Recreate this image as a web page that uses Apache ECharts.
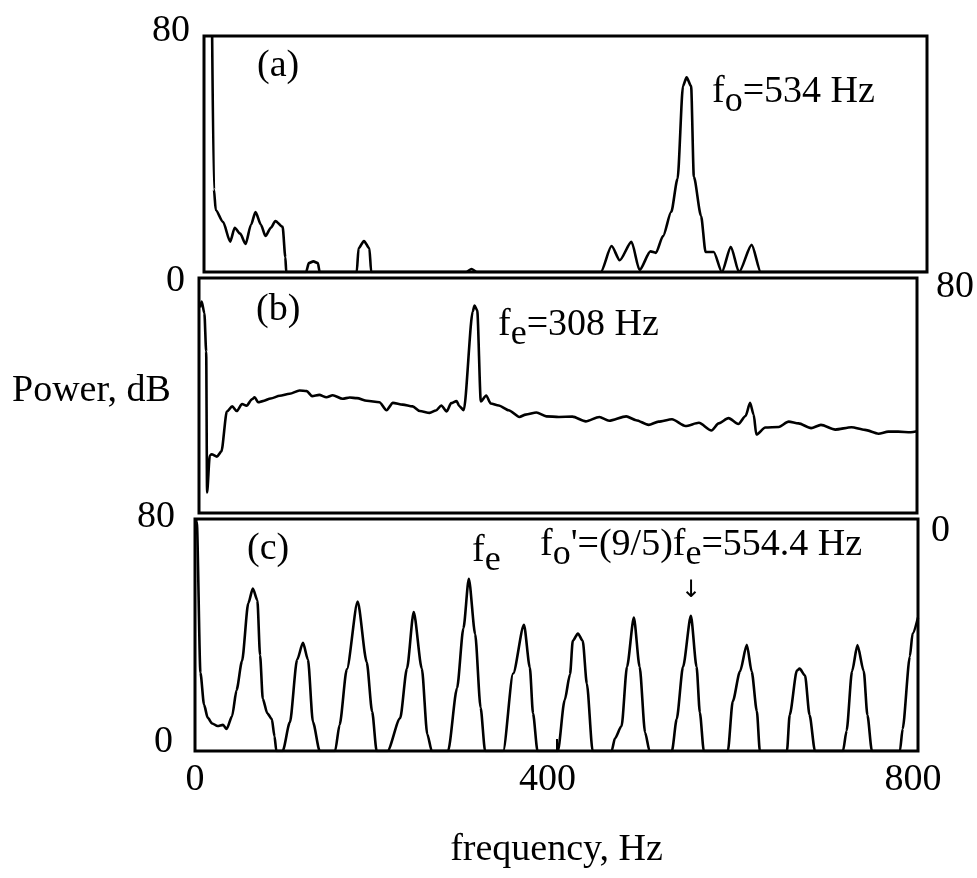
<!DOCTYPE html>
<html><head><meta charset="utf-8">
<script src="https://cdn.jsdelivr.net/npm/echarts@6/dist/echarts.min.js"></script>
<style>html,body{margin:0;padding:0;background:#fff}#c{width:977px;height:878px}</style>
</head><body><div id="c"></div>
<script>
// ---- Data (frequency in Hz, power in dB) ----
const freqA = [9, 11, 13, 21, 29, 34, 40, 46, 52, 57, 63, 68, 74, 79, 87, 90, 91, 113, 116, 121, 126, 128, 169, 171, 177, 183, 185, 290, 296, 302, 439, 451, 460, 473, 482, 494, 500, 508, 517, 524, 530, 534, 539, 542, 550, 555, 564, 573, 583, 592, 606, 616, 800];
const powerA = [80, 28, 21, 17, 10.3, 15, 13, 9.5, 16, 20.3, 16, 12.2, 15, 17.3, 15.3, 5, 0, 0, 3, 3.6, 3, 0, 0, 8, 10.5, 8, 0, 0, 1, 0, 0, 8.8, 4, 10.2, 0.7, 7, 6.5, 12.2, 20.4, 31.6, 63, 66, 63, 32.3, 19, 6.8, 6.8, 0, 8.5, 0, 9.2, 0, 0];

const freqB = [1, 3, 6, 8, 9, 12, 14, 20, 25, 31, 37, 42, 48, 53, 59, 62, 66, 71, 80, 90, 101, 112, 120, 126, 134, 142, 149, 160, 168, 176, 187, 201, 209, 216, 227, 238, 246, 257, 264, 270, 276, 281, 287, 290, 295, 305, 307, 310, 314, 320, 325, 334, 345, 357, 364, 376, 387, 401, 416, 431, 446, 457, 476, 487, 501, 512, 527, 542, 557, 571, 579, 590, 601, 609, 614, 618, 621, 631, 646, 657, 668, 682, 693, 709, 727, 742, 757, 768, 779, 793, 800];
const powerB = [70, 72, 68, 55, 7, 19.5, 20, 19.2, 21, 34.5, 36.3, 34.7, 37.1, 36.5, 38.7, 39.4, 37.7, 38.1, 39, 39.9, 40.6, 41.7, 41.5, 39.8, 40.2, 39.4, 40.1, 38.9, 39.3, 39.1, 38.2, 37.7, 35, 37.5, 36.9, 36.3, 34.7, 34.1, 34.9, 36.6, 34.6, 37.4, 38.1, 36.4, 35, 68.6, 70.6, 69, 38, 40, 37.3, 36.6, 35, 32.7, 33.5, 34.2, 32.9, 32.7, 32.8, 31.2, 32.7, 31.4, 32.9, 31.6, 30, 31.1, 31.9, 29.6, 30.7, 28.1, 30.5, 32.3, 30.3, 33, 37.5, 33.5, 26.7, 29.1, 29.3, 31.1, 30.5, 28.9, 30, 28.4, 29.2, 28.3, 27, 27.7, 27.7, 27.5, 27.8];

const freqC = [1, 2, 6, 10, 14, 19, 25, 31, 35, 41, 46, 52, 59, 64, 69, 72, 75, 80, 85, 88, 90, 97, 105, 113, 119.5, 125, 130.5, 138, 155, 160, 168, 180, 190, 196, 201, 213, 227, 234.5, 242, 251, 257, 262, 280, 290, 297, 303, 310, 316, 321, 341, 352, 364, 370.5, 374, 379, 401.5, 409, 415, 418, 423.7, 429, 433.6, 440, 461, 464.6, 472, 478, 485.6, 492, 498, 503, 527.7, 533, 540, 548.7, 555, 558.6, 563, 589.6, 595, 603, 610.6, 616, 621.7, 625, 655, 658, 666, 669, 675, 680, 686, 717, 721, 727, 733, 740, 744, 749, 780, 783, 791, 794, 800];
const powerC = [80, 79, 27, 16, 11.5, 9.5, 8.6, 9, 7.6, 12, 21, 31, 51, 56, 52, 33, 18, 13, 11, 5, 0, 0, 9.9, 31.5, 37.3, 31.5, 10, 0, 0, 9, 28.2, 51.5, 30.7, 13.6, 0, 0, 11.3, 28.4, 47.9, 28.4, 5.8, 0, 0, 21.7, 42.3, 59.4, 40.3, 15, 0, 0, 26.7, 43.5, 28.8, 13, 0, 0, 17.5, 26.5, 38, 40.5, 38, 23.2, 0, 0, 4.3, 8.6, 29, 46, 29, 6.4, 0, 0, 11, 29, 46.6, 29, 13.3, 0, 0, 17.1, 27.4, 36.6, 27.4, 13.7, 0, 0, 12.4, 27.7, 28.4, 26, 12.4, 0, 0, 7, 27.5, 36.5, 27.5, 12.4, 0, 0, 7.6, 32.6, 40.5, 46];

const xTickValues = [0, 400, 800];
const yTickValues = [0, 80];

// ---- Chart ----
const FONT = '"Liberation Serif", "Times New Roman", serif';
const FS = 38;
const zip = (xs, ys) => xs.map((x, i) => [x, ys[i]]);
const xMin = xTickValues[0], xMax = xTickValues[xTickValues.length - 1], xInt = xTickValues[1] - xTickValues[0];
const yMin = yTickValues[0], yMax = yTickValues[1];

function rs(pad, size) { return { fontFamily: FONT, fontSize: size || FS, color: '#000', padding: pad }; }

const gridBase = { show: true, borderColor: '#000', borderWidth: 3, backgroundColor: 'transparent' };

function xAx(idx, extra) {
  return Object.assign({
    type: 'value', gridIndex: idx, min: xMin, max: xMax, interval: xInt,
    axisLine: { show: false }, axisTick: { show: false }, splitLine: { show: false },
    axisLabel: { show: false }
  }, extra || {});
}
function yAx(idx, extra) {
  return Object.assign({
    type: 'value', gridIndex: idx, min: yMin, max: yMax, interval: yMax - yMin,
    axisLine: { show: false }, axisTick: { show: false }, splitLine: { show: false }
  }, extra || {});
}
const lineSeries = (i, xs, ys) => ({
  type: 'line', xAxisIndex: i, yAxisIndex: i, data: zip(xs, ys), showSymbol: false,
  smooth: 0.25, smoothMonotone: 'x', lineStyle: { color: '#000', width: 2.6 }
});

const option = {
  backgroundColor: '#fff',
  animation: false,
  grid: [
    Object.assign({ left: 204, top: 36, width: 723, height: 236 }, gridBase),
    Object.assign({ left: 199, top: 278, width: 720, height: 235 }, gridBase),
    Object.assign({ left: 195, top: 519, width: 723, height: 232 }, gridBase)
  ],
  xAxis: [
    xAx(0), xAx(1),
    xAx(2, {
      axisTick: { show: true, inside: true, length: 12, lineStyle: { color: '#000', width: 2 } },
      axisLabel: {
        show: true, margin: 10,
        formatter: v => v === 400 ? '{m|400}' : (v === 800 ? '{r|800}' : '{n|' + v + '}'),
        rich: { n: rs([0, 0, 0, 0]), m: rs([0, 18, 0, 0]), r: rs([0, 10, 0, 0]) }
      },
      name: 'frequency, Hz', nameLocation: 'middle', nameGap: 80,
      nameTextStyle: { fontFamily: FONT, fontSize: FS, color: '#000' }
    })
  ],
  yAxis: [
    yAx(0, { position: 'left', axisLabel: { margin: 14,
      formatter: v => v === 80 ? '{t|80}' : '{b|0}',
      rich: { t: rs([0, 0, 10, 0]), b: rs([18, 5, 0, 0]) } } }),
    yAx(1, { position: 'right', axisLabel: { margin: 14,
      formatter: v => v === 80 ? '{t|80}' : '{b|0}',
      rich: { t: rs([18, 0, 0, 5]), b: rs([36, 0, 0, 0]) } } }),
    yAx(2, { position: 'left', axisLabel: { margin: 20,
      formatter: v => v === 80 ? '{t|80}' : '{b|0}',
      rich: { t: rs([0, 0, 4, 0]), b: rs([0, 2, 18, 0]) } } })
  ],
  series: [
    lineSeries(0, freqA, powerA),
    lineSeries(1, freqB, powerB),
    lineSeries(2, freqC, powerC)
  ],
  graphic: [
    { type: 'text', left: 12, top: 372, style: { text: 'Power, dB', font: FS + 'px ' + FONT, fill: '#000' } },
    { type: 'text', x: 257, y: 66, style: { text: '(a)', font: FS + 'px ' + FONT, fill: '#000', verticalAlign: 'middle' } },
    { type: 'text', x: 256, y: 310, style: { text: '(b)', font: FS + 'px ' + FONT, fill: '#000', verticalAlign: 'middle' } },
    { type: 'text', x: 247, y: 549, style: { text: '(c)', font: FS + 'px ' + FONT, fill: '#000', verticalAlign: 'middle' } },
    { type: 'text', x: 712, y: 92, style: { text: '{m|f}{s|o}{m|=534 Hz}', verticalAlign: 'middle',
      rich: { m: rs([0, 0, 0, 0]), s: rs([20, 0, 0, 0], 36) } } },
    { type: 'text', x: 498, y: 325, style: { text: '{m|f}{s|e}{m|=308 Hz}', verticalAlign: 'middle',
      rich: { m: rs([0, 0, 0, 0]), s: rs([20, 0, 0, 0], 36) } } },
    { type: 'text', x: 472, y: 551, style: { text: '{m|f}{s|e}', verticalAlign: 'middle',
      rich: { m: rs([0, 0, 0, 0]), s: rs([20, 0, 0, 0], 36) } } },
    { type: 'text', x: 540, y: 545, style: { text: "{m|f}{s|o}{m|'=(9/5)f}{s|e}{m|=554.4 Hz}", verticalAlign: 'middle',
      rich: { m: rs([0, 0, 0, 0]), s: rs([20, 0, 0, 0], 36) } } },
    { type: 'text', x: 691, y: 591, style: { text: '↓', font: '24px "DejaVu Sans"', fill: '#000', align: 'center', verticalAlign: 'middle' } }
  ]
};

const chart = echarts.init(document.getElementById('c'), null, { renderer: 'canvas' });
chart.setOption(option);
</script>
</body></html>
